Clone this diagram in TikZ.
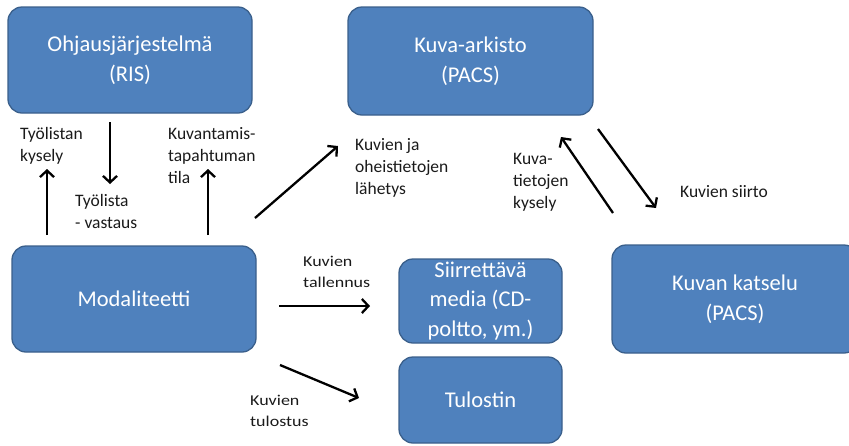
\documentclass[tikz,border=0pt]{standalone}
\usepackage{fontspec}
\setmainfont{Carlito}
\newfontfamily\widefont[FakeStretch=1.2]{Carlito}
\usetikzlibrary{arrows.meta}

\definecolor{boxfill}{HTML}{4F81BD}
\definecolor{boxline}{HTML}{3A5F8B}
\definecolor{labeltext}{HTML}{1A1A1A}

\begin{document}
\begin{tikzpicture}[
  x=1pt, y=-1pt,
  bluebox/.style={
    rectangle,
    rounded corners=14pt,
    draw=boxline,
    line width=1.3pt,
    fill=boxfill,
    text=white,
    inner sep=0pt,
    align=center,
    font=\fontsize{22.5}{29.5}\selectfont
  },
  flowlabel/.style={
    inner sep=0pt,
    anchor=west,
    align=left,
    text=labeltext,
    font=\fontsize{17.5}{22}\selectfont
  },
  smalllabel/.style={
    flowlabel,
    font=\widefont\fontsize{15}{21}\selectfont
  },
  arr/.style={
    line width=2.3pt,
    -{Straight Barb[length=6.5pt,width=14pt]}
  }]
  \clip (0,0) rectangle (849,445);

  % systems
  \node (ris)     [bluebox,minimum width=244pt,minimum height=106pt] at (130,60)    {Ohjausjärjestelmä\\(RIS)};
  \node (archive) [bluebox,minimum width=245pt,minimum height=108pt] at (470.5,61)  {Kuva-arkisto\\(PACS)};
  \node (modal)   [bluebox,minimum width=244pt,minimum height=106pt] at (134,299)   {Modaliteetti};
  \node (media)   [bluebox,minimum width=163pt,minimum height=84pt]  at (480.5,301) {Siirrettävä\\media (CD-\\poltto, ym.)};
  \node (printer) [bluebox,minimum width=163pt,minimum height=86pt]  at (480.5,400) {Tulostin};
  \node (viewer)  [bluebox,minimum width=246pt,minimum height=108pt] at (735,299)   {Kuvan katselu\\(PACS)};

  % arrow ends
  \coordinate (wlq-a) at (47,235);   \coordinate (wlq-b) at (47,169);
  \coordinate (wla-a) at (110,122);  \coordinate (wla-b) at (110,184);
  \coordinate (st-a)  at (208,235);  \coordinate (st-b)  at (208,169);
  \coordinate (snd-a) at (255,218);  \coordinate (snd-b) at (338,146);
  \coordinate (iq-a)  at (613,213);  \coordinate (iq-b)  at (561,137);
  \coordinate (tr-a)  at (598,129);  \coordinate (tr-b)  at (656,208);
  \coordinate (sv-a)  at (279,306);  \coordinate (sv-b)  at (370,306);
  \coordinate (pr-a)  at (280,365);  \coordinate (pr-b)  at (359,398);

  \draw[arr] (wlq-a) -- (wlq-b);
  \draw[arr] (wla-a) -- (wla-b);
  \draw[arr] (st-a) -- (st-b);
  \draw[arr] (snd-a) -- (snd-b);
  \draw[arr] (iq-a) -- (iq-b);
  \draw[arr] (tr-a) -- (tr-b);
  \draw[arr] (sv-a) -- (sv-b);
  \draw[arr] (pr-a) -- (pr-b);

  % labels
  \node (wlq-l) [flowlabel] at (20,146)  {Työlistan\\kysely};
  \node (wla-l) [flowlabel] at (75,211)  {Työlista\\- vastaus};
  \node (st-l)  [flowlabel] at (168,156) {Kuvantamis-\\tapahtuman\\tila};
  \node (snd-l) [flowlabel] at (355,168) {Kuvien ja\\oheistietojen\\lähetys};
  \node (iq-l)  [flowlabel] at (513,182) {Kuva-\\tietojen\\kysely};
  \node (tr-l)  [flowlabel] at (680,192) {Kuvien siirto};
  \node (sv-l)  [smalllabel] at (303,272) {Kuvien\\tallennus};
  \node (pr-l)  [smalllabel] at (250,411) {Kuvien\\tulostus};

\end{tikzpicture}
\end{document}
